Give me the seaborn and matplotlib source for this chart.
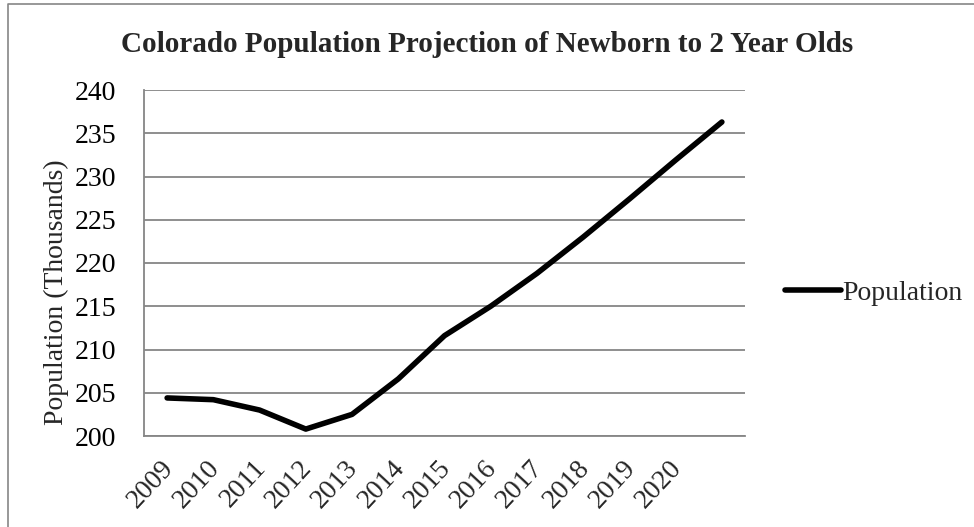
import matplotlib
matplotlib.use("Agg")
import matplotlib.pyplot as plt
from matplotlib.lines import Line2D
from matplotlib.ticker import FixedLocator, FixedFormatter, NullFormatter
from matplotlib.transforms import ScaledTranslation
import numpy as np
import pandas as pd
import seaborn as sns

# Projected population of children aged 0-2 (thousands), one value per year slot
years = ["2009", "2010", "2011", "2012", "2013", "2014", "2015",
         "2016", "2017", "2018", "2019", "2020", ""]
population = [204.4, 204.2, 203.0, 200.8, 202.5, 206.6, 211.6,
              215.0, 218.8, 223.0, 227.4, 231.9, 236.3]
y_ticks = [200, 205, 210, 215, 220, 225, 230, 235, 240]

title = "Colorado Population Projection of Newborn to 2 Year Olds"
y_label = "Population (Thousands)"
series_name = "Population"

W, H, DPI = 974, 527, 100
GRID = "#868686"
FS = 20

sns.set_style("white")
plt.rcParams["font.family"] = ["Liberation Serif", "DejaVu Serif"]

df = pd.DataFrame({
    "slot": np.arange(len(years)) + 0.5,
    "value": population,
})

fig = plt.figure(figsize=(W / DPI, H / DPI), dpi=DPI)
ax = fig.add_axes([144 / W, 1 - 436 / H, (745 - 144) / W, (436 - 90) / H])

sns.lineplot(data=df, x="slot", y="value", ax=ax, color="black",
             linewidth=4, legend=False, solid_capstyle="round",
             solid_joinstyle="round", zorder=3)

# value axis
ax.set_ylim(200, 240)
ax.set_yticks(y_ticks)
ax.yaxis.grid(True, color=GRID, linewidth=1.3)
ax.set_axisbelow(True)
ax.tick_params(axis="y", length=7, width=1.3, color=GRID,
               labelsize=FS, pad=13, labelcolor="black")

# category axis: tick marks between slots, labels centred on slots
ax.set_xlim(0, len(years))
ax.xaxis.set_major_locator(FixedLocator(np.arange(len(years) + 1)))
ax.xaxis.set_major_formatter(NullFormatter())
ax.xaxis.set_minor_locator(FixedLocator(df["slot"].tolist()))
ax.xaxis.set_minor_formatter(FixedFormatter(years))
ax.tick_params(axis="x", which="major", length=7, width=1.3, color=GRID,
               direction="out")
ax.tick_params(axis="x", which="minor", length=0, pad=14, labelsize=FS)
shift = ScaledTranslation(-7 / DPI, 0, fig.dpi_scale_trans)
for lbl in ax.get_xticklabels(minor=True):
    lbl.set_rotation(47)
    lbl.set_ha("right")
    lbl.set_va("top")
    lbl.set_rotation_mode("anchor")
    lbl.set_transform(lbl.get_transform() + shift)

ax.set_xlabel("")
ax.set_ylabel("")
for side in ("top", "right"):
    ax.spines[side].set_visible(False)
for side in ("left", "bottom"):
    ax.spines[side].set_color(GRID)
    ax.spines[side].set_linewidth(1.3)

fig.text(56 / W, 1 - 292 / H, y_label, rotation=90, fontsize=FS,
         ha="center", va="center")
fig.text(487 / W, 1 - 52 / H, title, fontsize=21, fontweight="bold",
         ha="center", va="baseline")

handle = Line2D([], [], color="black", linewidth=4, solid_capstyle="round")
fig.legend([handle], [series_name], loc="center left",
           bbox_to_anchor=(785 / W, 1 - 293 / H), frameon=False,
           fontsize=FS, handlelength=2.0, handletextpad=0.05,
           borderpad=0, borderaxespad=0)

# chart area outline (top and left edges)
fig.add_artist(Line2D([8 / W, 8 / W, 1], [0, 1 - 4 / H, 1 - 4 / H],
                      transform=fig.transFigure, color=GRID, linewidth=1.2))

fig.savefig("out.png", dpi=DPI)
